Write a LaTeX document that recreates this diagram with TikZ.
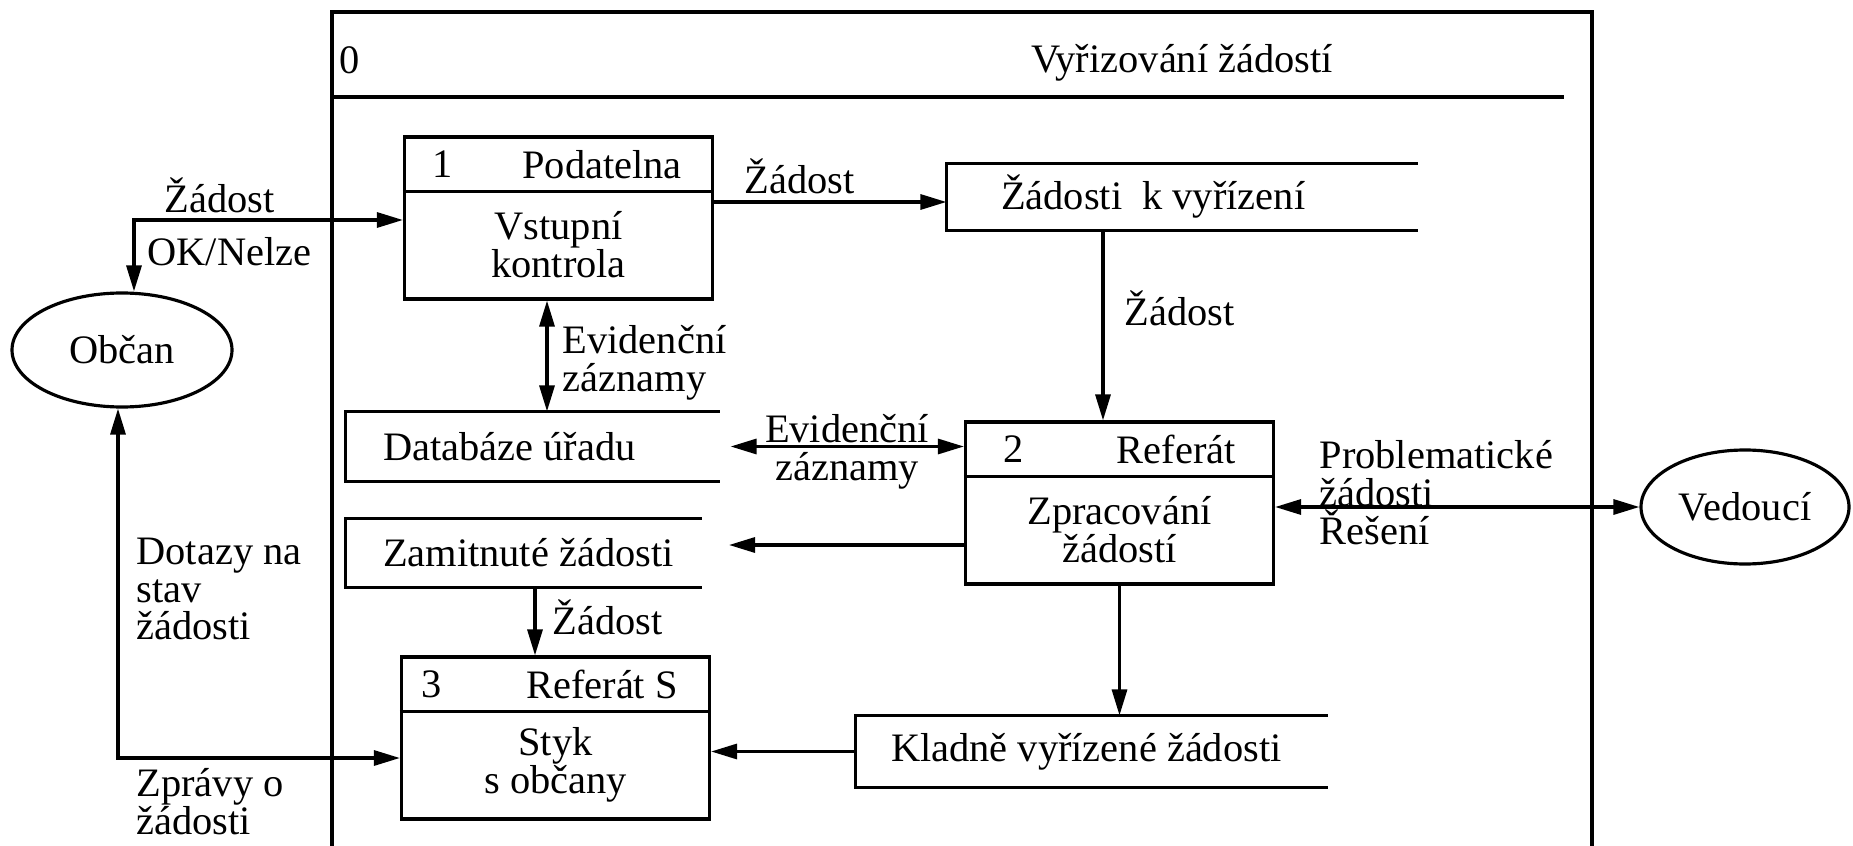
\documentclass[tikz,border=0pt]{standalone}
\usepackage{fontspec}
\setmainfont{Liberation Serif}
\usepackage{tikz}
\usetikzlibrary{arrows.meta,shapes.geometric,calc}

\begin{document}
\begin{tikzpicture}[
		font=\fontsize{11.5}{10.8}\selectfont,
		line width=0.9pt,
		flow/.style={line width=0.9pt, -{Triangle[length=2.6mm,width=1.5mm]}},
		biflow/.style={line width=0.9pt, {Triangle[length=2.6mm,width=1.5mm]}-{Triangle[length=2.6mm,width=1.5mm]}},
		proc/.style={draw, rectangle, minimum width=3.08cm, minimum height=1.62cm, inner sep=0pt},
		store/.style={rectangle, inner sep=0pt},
		agent/.style={draw, ellipse, inner sep=0pt, minimum height=1.14cm},
		lbl/.style={inner sep=0pt, anchor=west, align=left}
	]
					
					\useasboundingbox (0,0) rectangle (18.53,-8.46);
					
					\draw (3.32,-8.46) -- (3.32,-0.12) -- (15.92,-0.12) -- (15.92,-8.46);
					\draw (3.32,-0.97) -- (15.64,-0.97);
					\node [lbl] (zero) at (3.38,-0.60) {0};
					\node (title) at (11.82,-0.63) {Vyřizování žádostí};
					
					\node [agent, minimum width=2.2cm] (obcan) at (1.22,-3.50) {Občan};
					\node [agent, minimum width=2.08cm] (vedouci) at (17.45,-5.07) {Vedoucí};
					
					\node [proc] (p1) at (5.585,-2.18) {};
					\node [proc] (p2) at (11.195,-5.03) {};
					\node [proc] (p3) at (5.555,-7.38) {};
					\foreach \p in {p1,p2,p3}
						\draw ([yshift=-0.56cm]\p.north west) -- ([yshift=-0.56cm]\p.north east);
					
					\node (p1num) at ($(p1.north west)+(0.40,-0.29)$) {1};
					\node [anchor=east] (p1name) at ($(p1.north east)+(-0.19,-0.29)$) {Podatelna};
					\node [align=center] (p1body) at ($(p1.north)+(0,-1.09)$) {Vstupní\\kontrola};
					\node (p2num) at ($(p2.north west)+(0.50,-0.29)$) {2};
					\node [anchor=east] (p2name) at ($(p2.north east)+(-0.26,-0.29)$) {Referát};
					\node [align=center] (p2body) at ($(p2.north)+(0,-1.09)$) {Zpracování\\žádostí};
					\node (p3num) at ($(p3.north west)+(0.32,-0.29)$) {3};
					\node [anchor=east] (p3name) at ($(p3.north east)+(-0.20,-0.29)$) {Referát S};
					\node [align=center] (p3body) at ($(p3.north)+(0,-1.09)$) {Styk\\s občany};
					
					\node [store, minimum width=4.68cm, minimum height=0.64cm] (zadosti) at (11.82,-1.97) {};
					\node [store, minimum width=3.71cm, minimum height=0.67cm] (db) at (5.325,-4.465) {};
					\node [store, minimum width=3.53cm, minimum height=0.66cm] (rej) at (5.235,-5.53) {};
					\node [store, minimum width=4.69cm, minimum height=0.69cm] (kladne) at (10.915,-7.515) {};
					\foreach \s in {zadosti,db,rej,kladne}
						\draw (\s.north east) -- (\s.north west) -- (\s.south west) -- (\s.south east);
					\node [lbl] (zadostiname) at ($(zadosti.west)+(0.53,0)$) {Žádosti\ \ k vyřízení};
					\node [lbl] (dbname) at ($(db.west)+(0.36,0)$) {Databáze úřadu};
					\node [lbl] (rejname) at ($(rej.west)+(0.36,0)$) {Zamitnuté žádosti};
					\node [lbl] (kladnename) at ($(kladne.west)+(0.34,0)$) {Kladně vyřízené žádosti};
					
					\coordinate (c1) at (1.34,-2.20);
					\coordinate (c2) at (11.03,0);
					\coordinate (c3) at (5.47,0);
					\coordinate (c4) at (5.35,0);
					\coordinate (c5) at (7.29,-5.45);
					\coordinate (c6) at (1.18,-7.58);
					\coordinate (c7) at (0,-2.02);
					
					\draw [biflow] (obcan.north -| c1) -- (c1) -- (c1 -| p1.west);
					\draw [flow] (c7 -| p1.east) -- (c7 -| zadosti.west);
					\draw [flow] (c2 |- zadosti.south) -- (c2 |- p2.north);
					\draw [biflow] (c3 |- p1.south) -- (c3 |- db.north);
					\draw [biflow] ([xshift=0.11cm]db.east) -- (db.east -| p2.west);
					\draw [flow] (c5 -| p2.west) -- (c5);
					\draw [flow] (c4 |- rej.south) -- (c4 |- p3.north);
					\draw [flow] (p2.south) -- (p2.south |- kladne.north);
					\draw [flow] (kladne.west) -- (kladne.west -| p3.east);
					\draw [biflow] (p2.east |- vedouci.west) -- (vedouci.west);
					\draw [biflow] (obcan.south -| c6) -- (c6) -- (c6 -| p3.west);
					
					\node [lbl] (lzad1) at (1.63,-1.95) {Žádost};
					\node [lbl] (lok) at (1.46,-2.52) {OK/Nelze};
					\node [lbl] (lzad2) at (7.43,-1.76) {Žádost};
					\node [lbl] (lzad3) at (11.23,-3.08) {Žádost};
					\node [lbl] (lev1) at (5.61,-3.63) {Evidenční\\záznamy};
					\node [inner sep=0pt, align=center] (lev2) at (8.47,-4.52) {Evidenční\\záznamy};
					\node [lbl] (lprob) at (13.18,-4.93) {Problematické\\žádosti\\Řešení};
					\node [lbl] (lzad4) at (5.51,-6.17) {Žádost};
					\node [lbl] (ldotaz) at (1.35,-5.89) {Dotazy na\\stav\\žádosti};
					\node [lbl] (lzprav) at (1.35,-8.02) {Zprávy o\\žádosti};
				
				\end{tikzpicture}
\end{document}
